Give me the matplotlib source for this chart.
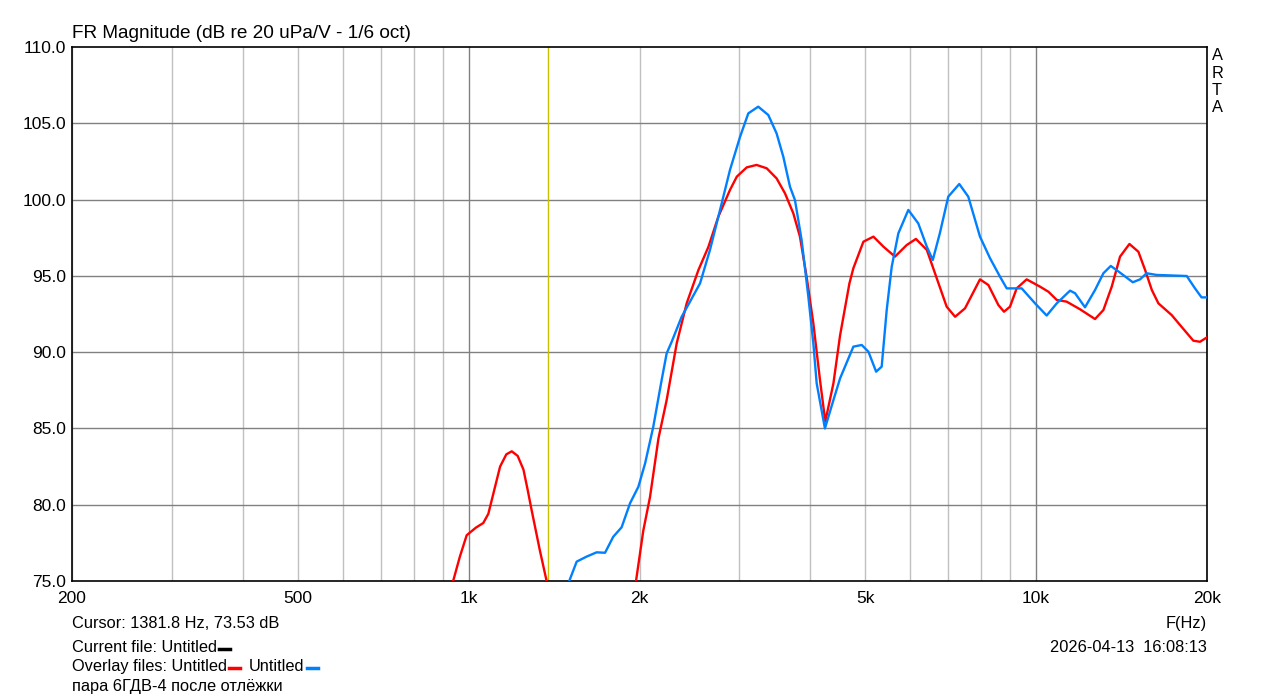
import numpy as np
import matplotlib
matplotlib.use('Agg')
import matplotlib.pyplot as plt
from matplotlib.lines import Line2D
from matplotlib.ticker import FixedLocator, NullFormatter

plt.rcParams['font.family'] = ['Liberation Sans', 'DejaVu Sans']

# red overlay curve (Hz, dB)
red_f = [900, 939, 965, 992, 1030, 1061, 1083, 1110, 1136, 1165, 1191, 1220, 1249,
         1270, 1291, 1335, 1372, 1400,
         1900, 1972, 2031, 2087, 2160, 2233, 2326, 2422, 2540, 2645, 2754, 2887,
         2968, 3090, 3216, 3351, 3488, 3609, 3733, 3835, 3940, 4049, 4160, 4250,
         4393, 4513, 4687, 4763, 4961, 5167, 5382, 5639, 5914, 6139, 6417, 6633,
         6955, 7197, 7492, 7962, 8237, 8578, 8776, 8993, 9240, 9622, 10160, 10510,
         10872, 11317, 11947, 12697, 13136, 13588, 14054, 14600, 15140, 15560,
         15990, 16419, 17330, 17925, 18922, 19440, 20000]
red_db = [73.0, 75.0, 76.6, 78.0, 78.5, 78.8, 79.4, 81.0, 82.5, 83.3, 83.5, 83.2, 82.3,
          81.0, 79.65, 77.0, 75.0, 73.5,
          72.0, 75.0, 78.3, 80.5, 84.35, 86.86, 90.58, 93.2, 95.38, 96.9, 98.88, 100.63,
          101.5, 102.11, 102.27, 102.05, 101.39, 100.41, 99.1, 97.57, 94.94, 91.89, 88.17, 85.45,
          87.96, 91.1, 94.5, 95.5, 97.24, 97.57, 96.91, 96.26, 97.02, 97.42, 96.7, 95.17,
          92.98, 92.32, 92.87, 94.77, 94.4, 93.09, 92.65, 92.98, 94.18, 94.77, 94.29, 93.96,
          93.42, 93.31, 92.81, 92.17, 92.76, 94.29, 96.26, 97.09, 96.58, 95.38,
          94.07, 93.2, 92.43, 91.78, 90.75, 90.68, 90.97]

# blue overlay curve (Hz, dB)
blue_f = [1470, 1504, 1550, 1614, 1681, 1739, 1798, 1860, 1925, 1991, 2046, 2115,
          2188, 2233, 2279, 2373, 2455, 2557, 2662, 2773, 2887, 3008, 3110, 3238,
          3373, 3488, 3585, 3683, 3758, 3861, 3968, 4049, 4104, 4244, 4393, 4513,
          4763, 4927, 5063, 5224, 5343, 5453, 5565, 5717, 5953, 6198, 6417, 6574,
          6765, 7000, 7320, 7592, 7962, 8294, 8637, 8874, 9430, 9954, 10436, 10872,
          11473, 11710, 12192, 12697, 13136, 13535, 14054, 14800, 15241, 15654, 16302,
          18420, 19050, 19560, 20000]
blue_db = [73.5, 75.0, 76.27, 76.6, 76.88, 76.85, 77.9, 78.52, 80.1, 81.18, 82.71, 85.11,
           88.17, 89.92, 90.68, 92.32, 93.31, 94.51, 96.7, 99.32, 101.94, 104.12, 105.65, 106.09,
           105.54, 104.34, 102.8, 100.84, 99.97, 97.35, 93.63, 90.58, 87.96, 85.0, 86.86, 88.28,
           90.36, 90.47, 90.03, 88.72, 89.05, 92.76, 95.6, 97.79, 99.32, 98.44, 96.91, 96.04,
           97.79, 100.19, 101.02, 100.19, 97.57, 96.15, 94.94, 94.18, 94.18, 93.2, 92.4, 93.2,
           94.03, 93.86, 92.94, 94.07, 95.17, 95.65, 95.21, 94.58, 94.77, 95.17, 95.06,
           94.99, 94.18, 93.59, 93.59]

cursor_hz = 1381.8
x_ticks = [200, 500, 1000, 2000, 5000, 10000, 20000]
x_labels = ['200', '500', '1k', '2k', '5k', '10k', '20k']
y_ticks = [75, 80, 85, 90, 95, 100, 105, 110]

W, H = 1279, 699
fig = plt.figure(figsize=(W / 100, H / 100), dpi=100)
ax = fig.add_axes([72 / W, 1 - 581 / H, (1207 - 72) / W, (581 - 47) / H])
ax.set_xscale('log')
ax.set_xlim(200, 20000)
ax.set_ylim(75, 110)

# grid: light minor verticals, darker decade lines and horizontals
minor = [f for d in (100, 1000, 10000) for f in range(2 * d, 10 * d + 1, d) if 200 <= f <= 20000]
for f in minor:
    c = '#808080' if f in (1000, 10000) else '#c0c0c0'
    ax.axvline(f, color=c, lw=1, zorder=1)
for y in y_ticks[1:-1]:
    ax.axhline(y, color='#808080', lw=1, zorder=1)

ax.axvline(cursor_hz, color='#c8c000', lw=1, zorder=2)

ax.plot(red_f, red_db, color='#ff0000', lw=1.7, zorder=3, solid_joinstyle='round')
ax.plot(blue_f, blue_db, color='#0080ff', lw=1.7, zorder=4, solid_joinstyle='round')

ax.xaxis.set_major_locator(FixedLocator(x_ticks))
ax.set_xticklabels(x_labels)
ax.xaxis.set_minor_formatter(NullFormatter())
ax.set_yticks(y_ticks)
ax.set_yticklabels(['%.1f' % v for v in y_ticks])
ax.tick_params(which='both', length=0, labelsize=12.5, colors='black')
ax.tick_params(axis='y', pad=4)
ax.tick_params(axis='x', pad=7)
for s in ax.spines.values():
    s.set_color('black')
    s.set_linewidth(1.2)

fs = 11.8
fig.text(72 / W, 1 - 33 / H, 'FR Magnitude (dB re 20 uPa/V - 1/6 oct)', fontsize=13.7, va='center')
for i, ch in enumerate('ARTA'):
    fig.text(1212 / W, 1 - (56 + 17.3 * i) / H, ch, fontsize=fs, va='center')


def line_text(x, y, s, **kw):
    # y is the baseline in pixels from the top
    return fig.text(x / W, 1 - y / H, s, fontsize=fs, va='baseline', **kw)


line_text(72, 628, 'Cursor: 1381.8 Hz, 73.53 dB')
t1 = line_text(72, 652, 'Current file: Untitled')
t2 = line_text(72, 671, 'Overlay files: Untitled')
line_text(72, 691, 'пара 6ГДВ-4 после отлёжки')
line_text(1207, 628, 'F(Hz)', ha='right')
line_text(1207, 652, '2026-04-13  16:08:13', ha='right')

r = fig.canvas.get_renderer()


def dash(x0, y, color):
    fig.add_artist(Line2D([x0 / W, (x0 + 11) / W], [1 - y / H, 1 - y / H],
                          color=color, lw=2.5, transform=fig.transFigure))


e1 = t1.get_window_extent(r)
dash(e1.x1 + 2, 649, 'black')
e2 = t2.get_window_extent(r)
dash(e2.x1 + 2, 668, '#ff0000')
t3 = line_text(e2.x1 + 22, 671, 'Untitled')
e3 = t3.get_window_extent(r)
dash(e3.x1 + 2, 668, '#0080ff')

fig.savefig('out.png', dpi=100)
